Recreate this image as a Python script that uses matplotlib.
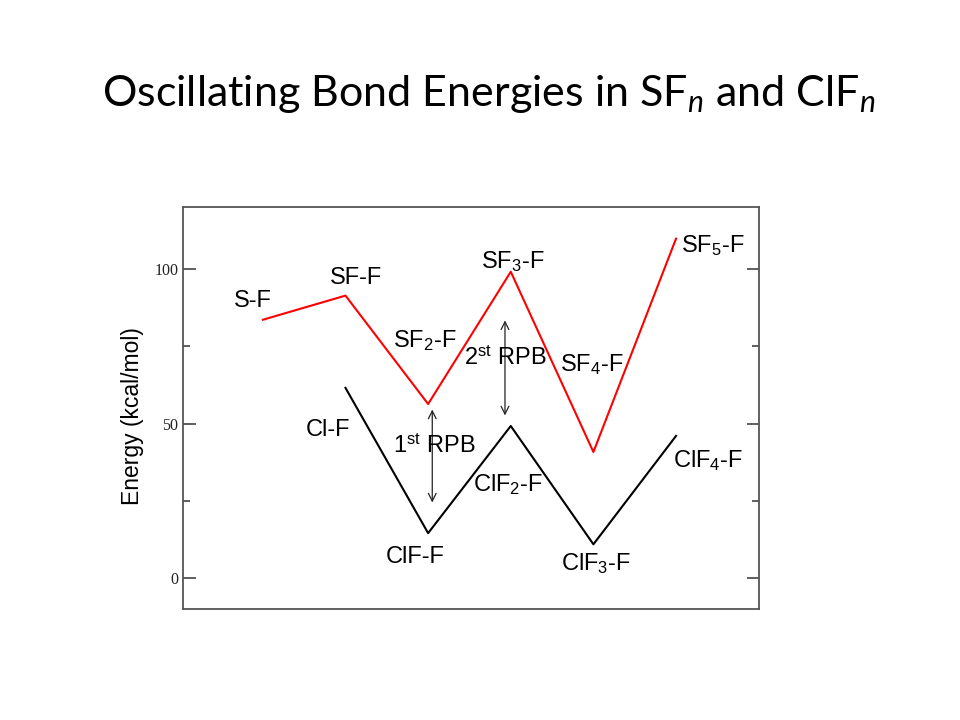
import matplotlib
matplotlib.use("Agg")
import matplotlib.pyplot as plt
from matplotlib.ticker import MultipleLocator

plt.rcParams['mathtext.fontset'] = 'custom'
plt.rcParams['mathtext.rm'] = 'Liberation Sans'
plt.rcParams['mathtext.it'] = 'Lato:italic'

# bond energies (kcal/mol)
sf_x = [0, 1, 2, 3, 4, 5]
sf_energy = [83.5, 91.3, 56.3, 99.0, 40.8, 109.7]
clf_x = [1, 2, 3, 4, 5]
clf_energy = [61.5, 14.6, 49.2, 11.0, 46.0]

# point labels: text, x, y (baseline)
sf_labels = ['S-F', 'SF-F', r'SF$_2$-F', r'SF$_3$-F', r'SF$_4$-F', r'SF$_5$-F']
sf_label_x = [-0.12, 1.13, 1.96, 3.03, 3.98, 5.45]
sf_label_y = [87.5, 95.2, 74.6, 100.1, 66.7, 105.3]
clf_labels = ['Cl-F', 'ClF-F', r'ClF$_2$-F', r'ClF$_3$-F', r'ClF$_4$-F']
clf_label_x = [0.79, 1.84, 2.97, 4.03, 5.39]
clf_label_y = [46.1, 4.8, 28.0, 2.5, 35.8]

# recoupled pair bonding arrows
rpb_labels = [r'1$^{\rm st}$ RPB', r'2$^{\rm st}$ RPB']
rpb_x = [2.05, 2.93]
rpb_top = [54.5, 83.3]
rpb_bottom = [24.5, 52.6]
rpb_label_x = [2.08, 2.94]
rpb_label_y = [40.6, 69.0]

fig = plt.figure(figsize=(9.6, 7.2), dpi=100)
ax = fig.add_axes([0.1903, 0.1537, 0.6, 0.5592])

ax.plot(sf_x, sf_energy, color='#ff0000', lw=1.5)
ax.plot(clf_x, clf_energy, color='black', lw=1.5)

lab_font = dict(family='Liberation Sans', size=17, ha='center', va='baseline')
for t, x, y in zip(sf_labels, sf_label_x, sf_label_y):
    ax.text(x, y, t, **lab_font)
for t, x, y in zip(clf_labels, clf_label_x, clf_label_y):
    ax.text(x, y, t, **lab_font)

for i in range(2):
    ax.annotate('', xy=(rpb_x[i], rpb_top[i]), xytext=(rpb_x[i], rpb_bottom[i]),
                arrowprops=dict(arrowstyle='<->', color='#222222', lw=0.9,
                                shrinkA=0, shrinkB=0, mutation_scale=14))
    ax.text(rpb_label_x[i], rpb_label_y[i], rpb_labels[i], **lab_font)

ax.set_xlim(-0.97, 6.0)
ax.set_ylim(-10, 120)
ax.set_xticks([])
ax.yaxis.set_major_locator(MultipleLocator(50))
ax.yaxis.set_minor_locator(MultipleLocator(25))
ax.tick_params(axis='y', which='both', direction='in', left=True, right=True,
               color='#444444', width=1.2)
ax.tick_params(axis='y', which='major', length=9, pad=3, labelsize=11.5,
               labelcolor='#222222')
ax.tick_params(axis='y', which='minor', length=5)
ax.set_yticks([0, 50, 100])
ax.set_yticks([25, 75], minor=True)
for lbl in ax.get_yticklabels():
    lbl.set_family('Liberation Serif')
for sp in ax.spines.values():
    sp.set_color('#555555')
    sp.set_linewidth(1.3)

fig.text(133 / 960, 1 - 416 / 720, 'Energy (kcal/mol)', rotation=90,
         ha='center', va='center', family='Liberation Sans', size=16.5)

fig.text(489 / 960, 1 - 106 / 720,
         r'Oscillating Bond Energies in SF$_{n}$ and ClF$_{n}$',
         ha='center', va='baseline', family='Lato', size=31)

fig.savefig('out.png', dpi=100)
